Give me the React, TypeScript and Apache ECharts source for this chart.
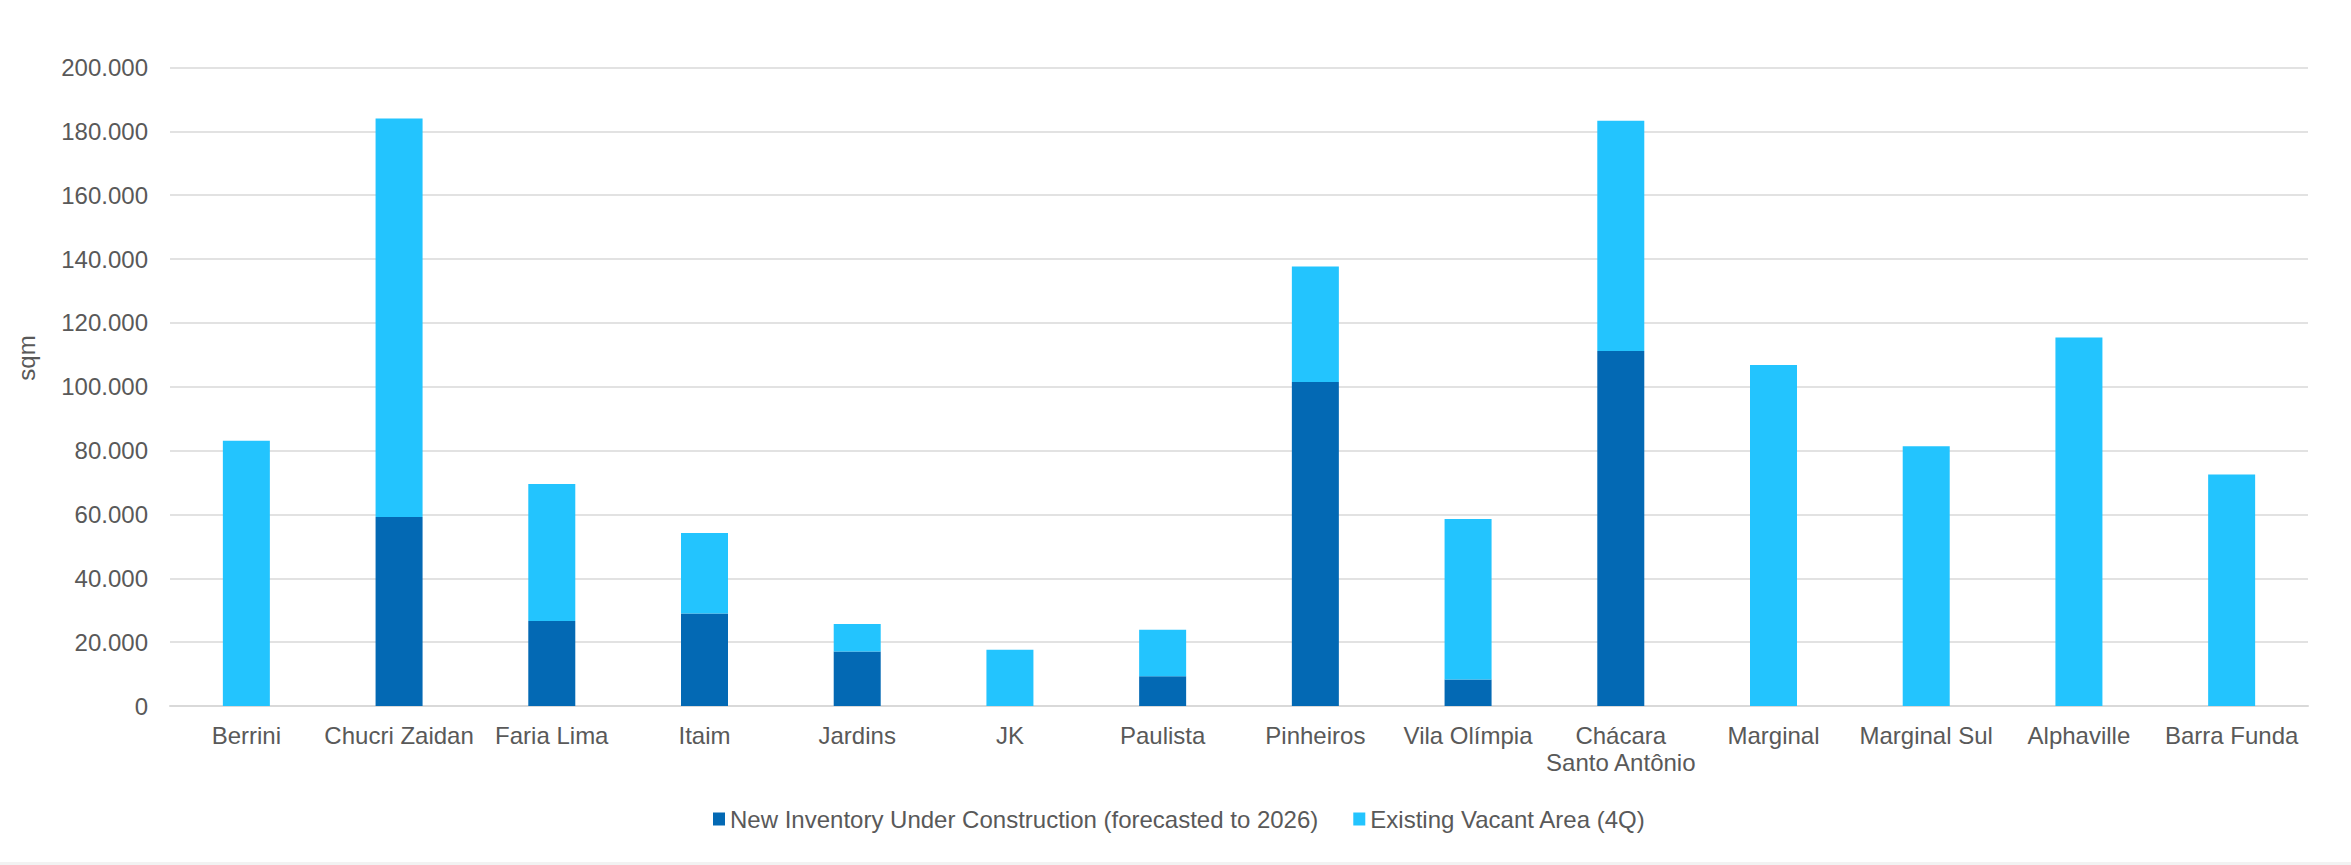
import React, { useEffect, useRef } from "react";
import * as echarts from "echarts";

const categories = [
  "Berrini",
  "Chucri Zaidan",
  "Faria Lima",
  "Itaim",
  "Jardins",
  "JK",
  "Paulista",
  "Pinheiros",
  "Vila Olímpia",
  "Chácara\nSanto Antônio",
  "Marginal",
  "Marginal Sul",
  "Alphaville",
  "Barra Funda",
];

const newInventory = [0, 59200, 26600, 29000, 17100, 0, 9300, 101500, 8300, 111200, 0, 0, 0, 0];
const existingVacant = [83100, 124800, 42900, 25200, 8600, 17600, 14600, 36200, 50300, 72100, 106800, 81400, 115400, 72500];

const seriesNames = [
  "New Inventory Under Construction (forecasted to 2026)",
  "Existing Vacant Area (4Q)",
];
const axisName = "sqm";

const FONT = "Liberation Sans, Arial, sans-serif";
const TEXT = "#595959";
const GRID = "#D9D9D9";
const DARK = "#0369B4";
const LIGHT = "#23C4FE";

function fmt(v: number): string {
  return String(v).replace(/\B(?=(\d{3})+(?!\d))/g, ".");
}

export default function App() {
  const ref = useRef<HTMLDivElement>(null);
  useEffect(() => {
    if (!ref.current) return;
    const chart = echarts.init(ref.current, null, { renderer: "svg" });
    chart.setOption({
      animation: false,
      backgroundColor: "#ffffff",
      textStyle: { fontFamily: FONT },
      grid: { left: 170, right: 43, top: 67.5, bottom: 159, containLabel: false },
      legend: {
        left: 708,
        top: 802,
        itemWidth: 12,
        itemHeight: 13,
        itemGap: 35,
        icon: "rect",
        textStyle: { color: TEXT, fontSize: 24, fontFamily: FONT },
        data: seriesNames,
      },
      xAxis: {
        type: "category",
        data: categories,
        axisTick: { show: false },
        axisLine: { lineStyle: { color: GRID, width: 2 } },
        axisLabel: {
          interval: 0,
          color: TEXT,
          fontSize: 24,
          fontFamily: FONT,
          margin: 16,
          lineHeight: 27,
        },
      },
      yAxis: {
        type: "value",
        min: 0,
        max: 200000,
        interval: 20000,
        axisLine: { show: false },
        axisTick: { show: false },
        splitLine: { lineStyle: { color: GRID, width: 1.5 } },
        axisLabel: {
          color: TEXT,
          fontSize: 24,
          fontFamily: FONT,
          margin: 22,
          formatter: (v: number) => fmt(v),
        },
      },
      graphic: [
        {
          type: "text",
          x: 26,
          y: 358,
          rotation: Math.PI / 2,
          style: {
            text: axisName,
            fill: TEXT,
            font: `24px ${FONT}`,
            align: "center",
            verticalAlign: "middle",
          },
        },
        {
          type: "rect",
          shape: { x: 0, y: 862, width: 2351, height: 3 },
          style: { fill: "#F2F2F2" },
          silent: true,
        },
      ],
      series: [
        {
          name: seriesNames[0],
          type: "bar",
          stack: "total",
          barWidth: 47,
          data: newInventory,
          itemStyle: { color: DARK },
        },
        {
          name: seriesNames[1],
          type: "bar",
          stack: "total",
          barWidth: 47,
          data: existingVacant,
          itemStyle: { color: LIGHT },
        },
      ],
    });
    return () => chart.dispose();
  }, []);
  return (
    <div
      ref={ref}
      style={{ position: "absolute", left: 0, top: 0, width: 2351, height: 865 }}
    />
  );
}
